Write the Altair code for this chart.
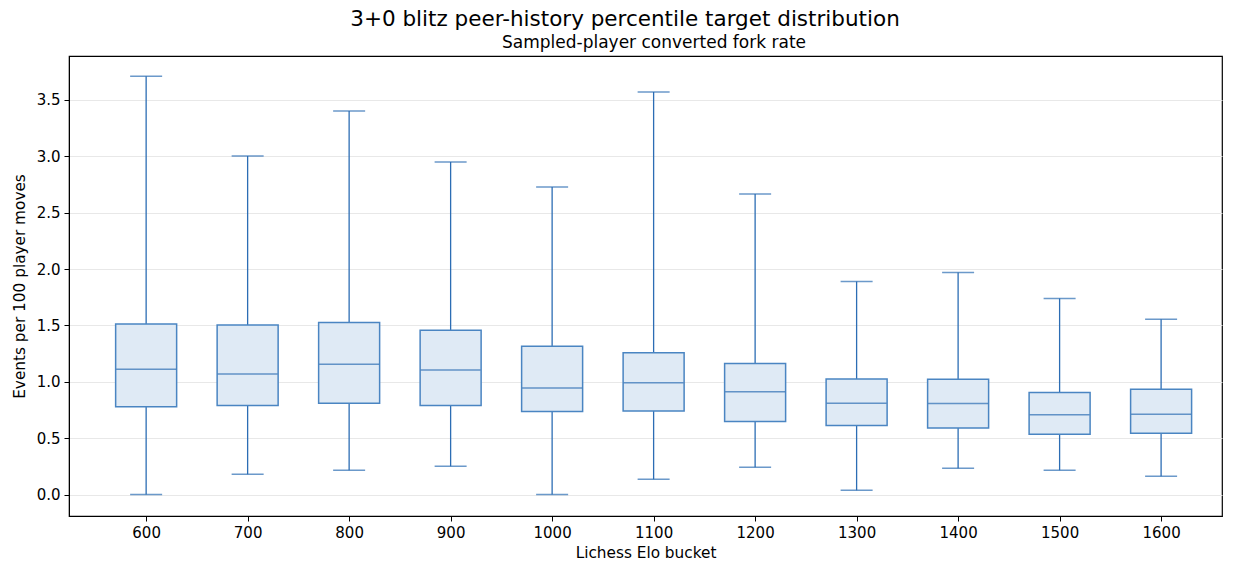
import altair as alt
import pandas as pd

elo = [600, 700, 800, 900, 1000, 1100, 1200, 1300, 1400, 1500, 1600]
whisk_lo = [0.0, 0.180, 0.216, 0.251, 0.0, 0.136, 0.242, 0.038, 0.233, 0.216, 0.162]
q1 = [0.778, 0.790, 0.810, 0.790, 0.737, 0.742, 0.648, 0.612, 0.591, 0.535, 0.544]
median = [1.111, 1.070, 1.156, 1.106, 0.946, 0.991, 0.911, 0.810, 0.808, 0.707, 0.713]
q3 = [1.513, 1.505, 1.527, 1.458, 1.316, 1.257, 1.163, 1.026, 1.023, 0.905, 0.935]
whisk_hi = [3.710, 3.003, 3.402, 2.949, 2.727, 3.571, 2.665, 1.890, 1.970, 1.740, 1.555]

x_ticks = [600, 700, 800, 900, 1000, 1100, 1200, 1300, 1400, 1500, 1600]
y_ticks = [0.0, 0.5, 1.0, 1.5, 2.0, 2.5, 3.0, 3.5]

title_text = "3+0 blitz peer-history percentile target distribution"
subtitle_text = "Sampled-player converted fork rate"

df = pd.DataFrame({"elo": elo, "lo": whisk_lo, "q1": q1, "med": median, "q3": q3, "hi": whisk_hi})

FONT = "DejaVu Sans"
LINE = "#2c6db4"
EDGE = "#4a85c2"
FILL = "#dfeaf5"

x = alt.X("elo:Q", title="Lichess Elo bucket",
          scale=alt.Scale(domain=[524, 1660], nice=False, zero=False, padding=0),
          axis=alt.Axis(values=x_ticks, format="d", grid=False, titlePadding=5))
y_axis = alt.Axis(values=y_ticks, format=".1f", grid=True, gridColor="#e8e8e8", titlePadding=9)
y_scale = alt.Scale(domain=[-0.19, 3.89], nice=False, zero=False, padding=0)

base = alt.Chart(df)

whisk = base.mark_rule(color=LINE, strokeWidth=1.3).encode(
    x=x, y=alt.Y("lo:Q", title="Events per 100 player moves", scale=y_scale, axis=y_axis), y2="hi:Q")
cap_lo = base.mark_tick(color=LINE, orient="horizontal", size=32, thickness=1.5).encode(x="elo:Q", y="lo:Q")
cap_hi = base.mark_tick(color=LINE, orient="horizontal", size=32, thickness=1.5).encode(x="elo:Q", y="hi:Q")
box = base.mark_bar(size=61, fill=FILL, stroke=EDGE, strokeWidth=1.5).encode(x="elo:Q", y="q1:Q", y2="q3:Q")
med = base.mark_tick(color=LINE, orient="horizontal", size=60, thickness=1.5).encode(x="elo:Q", y="med:Q")

title = alt.Chart(pd.DataFrame({"t": [title_text]})).mark_text(
    font=FONT, fontSize=21.5, color="black", align="center", baseline="alphabetic"
).encode(text="t:N", x=alt.value(556), y=alt.value(-30))
subtitle = alt.Chart(pd.DataFrame({"t": [subtitle_text]})).mark_text(
    font=FONT, fontSize=17, color="black", align="center", baseline="alphabetic"
).encode(text="t:N", x=alt.value(585), y=alt.value(-8))

chart = alt.layer(whisk, cap_lo, cap_hi, box, med, title, subtitle).properties(
    width=1153, height=460,
    autosize=alt.AutoSizeParams(type="none"),
    padding={"left": 61, "top": 48, "right": 8, "bottom": 48},
).configure_view(stroke="black", strokeWidth=1.2).configure_axis(
    labelFont=FONT, titleFont=FONT, labelFontSize=15, titleFontSize=15.3,
    titleFontWeight="normal", labelColor="black", titleColor="black",
    tickColor="black", tickSize=5, domainColor="black", labelPadding=4,
)

chart.save("out.html", embed_options={"renderer": "svg", "actions": False})
